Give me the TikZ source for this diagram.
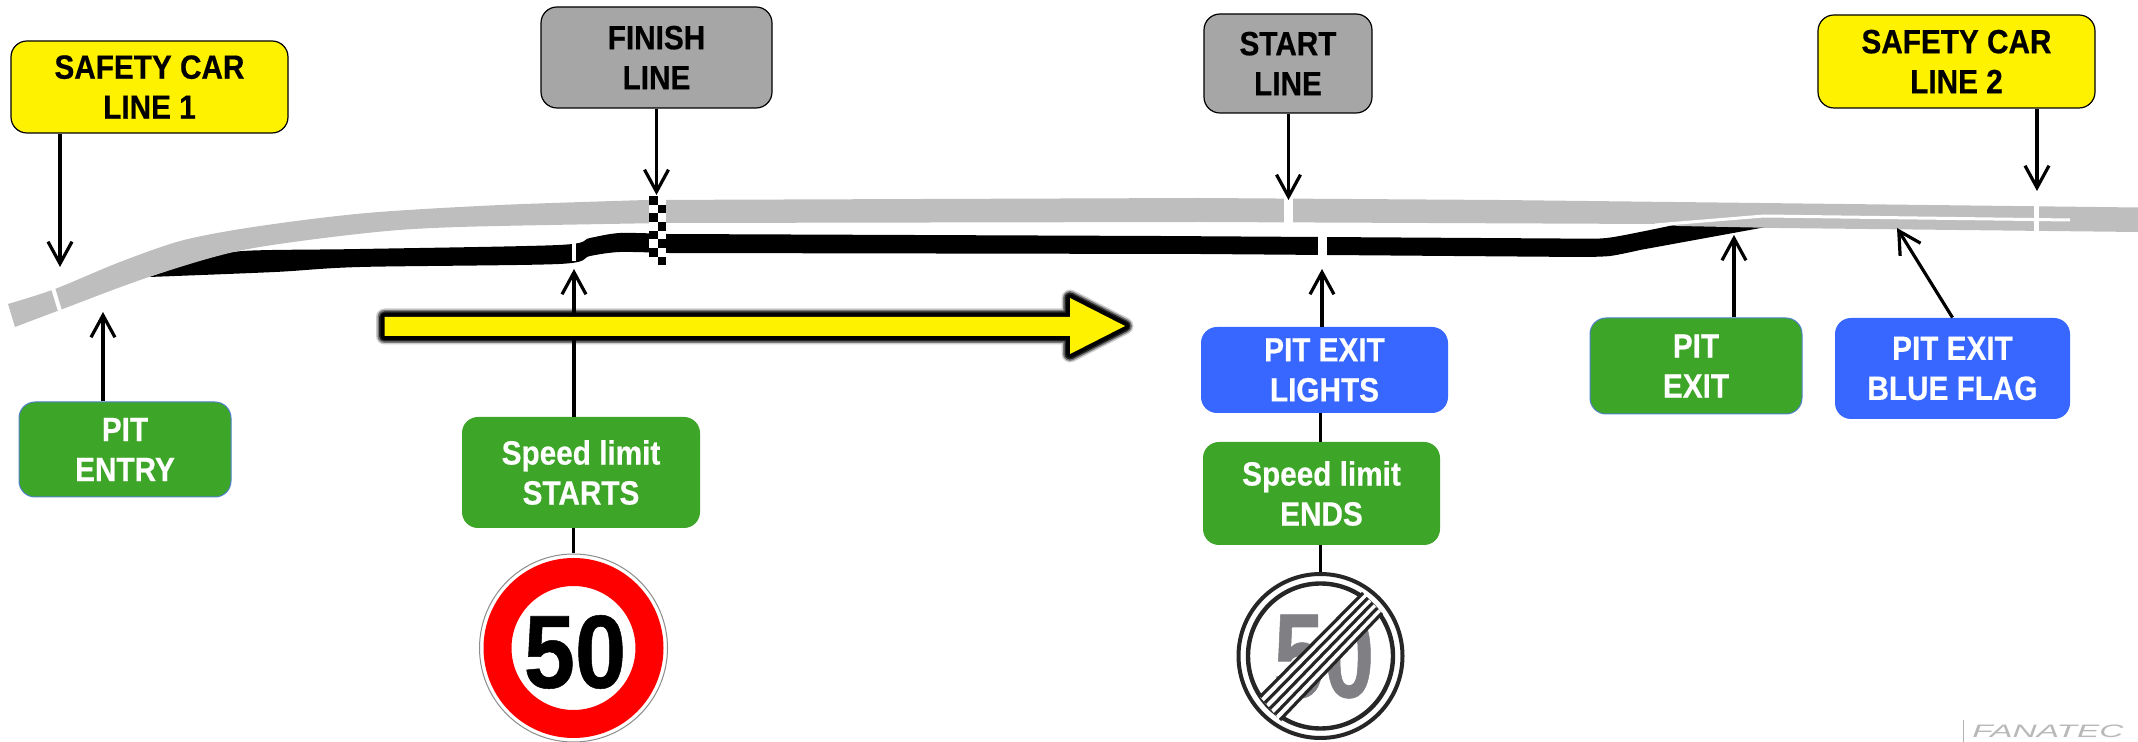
\documentclass[tikz,border=0pt]{standalone}
\usepackage{fontspec}
\setmainfont[FakeStretch=0.885,BoldFeatures={FakeStretch=0.885,FakeBold=0.5}]{Liberation Sans}
\usetikzlibrary{arrows.meta}
\definecolor{trackgrey}{HTML}{BEBEBE}
\definecolor{boxgrey}{HTML}{A6A6A6}
\definecolor{boxgreen}{HTML}{3DA528}
\definecolor{boxblue}{HTML}{3767FF}
\definecolor{rimblue}{HTML}{4F81C8}
\definecolor{signgrey}{HTML}{7F7F84}
\begin{document}
\begin{tikzpicture}
[x=0.5pt,y=-0.5pt,
markbox/.style={rectangle,rounded corners=8pt,align=center,inner sep=0pt,font=\fontsize{16.8}{20}\selectfont\bfseries},
yellowbox/.style={markbox,draw=black,line width=0.6pt,fill=yellow,text=black},
greybox/.style={markbox,draw=black,line width=0.6pt,fill=boxgrey,text=black},
greenbox/.style={markbox,draw=rimblue,line width=0.5pt,fill=boxgreen,text=white},
speedbox/.style={markbox,fill=boxgreen,text=white},
bluebox/.style={markbox,fill=boxblue,text=white},
pointer/.style={-{Straight Barb[length=11pt,width=12pt]},line width=1.6pt,black},
plainlink/.style={line width=1.6pt,black},
gapmark/.style={fill=white},
signdisc/.style={circle,inner sep=0pt,fill=white}]
\useasboundingbox (0,0) rectangle (2138,742);
\fill[black] plot[smooth,tension=.5] coordinates {(149,277) (200,260) (243,251) (360,249) (559,245) (590,238) (620,233) (666,234)} -- (1160,236) -- plot[smooth,tension=.5] coordinates {(1560,238.5) (1600,238.5) (1625,235) (1679,224)} -- (1777,225) -- plot[smooth,tension=.5] coordinates {(1640,250) (1610,256) (1580,257)} -- (1200,254) -- plot[smooth,tension=.5] coordinates {(666,253) (620,252) (590,256) (559,264) (360,267) (275,272) (149,277)} -- cycle;
\fill[trackgrey] plot[smooth,tension=.5] coordinates {(8,304) (55,289) (120,262) (184,240) (260,226) (367,213) (500,205) (647,200)} -- (1200,198) -- (1500,200) -- (1760,203) -- (2138,207.5) -- (2138,232) -- (1777,228) -- (1679,226) -- (1655,224) -- (1200,222) -- plot[smooth,tension=.5] coordinates {(666,223) (459,227) (367,233) (243,250) (149,277) (60,310) (15,327)} -- cycle;
\draw[white,line width=2pt] (53,288) -- (60,311);
\draw[white,line width=2pt] (574,243) -- (574,261);
\fill[gapmark] (1284,196) rectangle (1293,224);
\fill[gapmark] (1318,230) rectangle (1327,259);
\fill[gapmark] (2034,203) rectangle (2039,233);
\draw[white,line width=1.5pt] (1655,225) -- (1764,216) -- (2070,220);
\fill[gapmark] (649,196) rectangle (666,265);
\foreach \row in {0,2,4,6}
  \fill[black] (649,196+8.66*\row) rectangle ++(8.5,8.66);
\foreach \row in {1,3,5,7}
  \fill[black] (657.5,196+8.66*\row) rectangle ++(8.5,8.66);
\node[yellowbox,minimum width=138.5pt,minimum height=46pt] (safety1) at (149.5,87) {SAFETY CAR\\LINE 1};
\node[greybox,minimum width=115.5pt,minimum height=50.5pt] (finish) at (656.5,57.5) {FINISH\\LINE};
\node[greybox,minimum width=84pt,minimum height=49.5pt] (start) at (1288,63.5) {START\\LINE};
\node[yellowbox,minimum width=138.5pt,minimum height=46.5pt] (safety2) at (1956.5,61.5) {SAFETY CAR\\LINE 2};
\node[greenbox,minimum width=106pt,minimum height=47.5pt] (pitentry) at (125,449.5) {PIT\\ENTRY};
\node[speedbox,minimum width=119pt,minimum height=55.5pt] (limitstarts) at (581,472.5) {Speed limit\\STARTS};
\node[bluebox,minimum width=123.5pt,minimum height=43pt] (exitlights) at (1324.5,370) {PIT EXIT\\LIGHTS};
\node[speedbox,minimum width=118.5pt,minimum height=51.5pt] (limitends) at (1321.5,493.5) {Speed limit\\ENDS};
\node[greenbox,minimum width=106pt,minimum height=48pt] (pitexit) at (1696,366) {PIT\\EXIT};
\node[bluebox,minimum width=117.5pt,minimum height=50.5pt] (blueflag) at (1952.5,368.5) {PIT EXIT\\BLUE FLAG};
\node[signdisc,draw=black!45,line width=0.5pt,minimum size=94pt] (signstarts) at (573.5,648) {};
\draw[red,line width=14pt] (signstarts.center) circle (76);
\node[inner sep=0pt,font=\fontsize{52}{52}\selectfont\bfseries] (fiftystarts) at (575,652) {50};
\node[signdisc,minimum size=84pt] (signends) at (1320.5,656) {};
\draw[black!85,line width=2pt] (signends.center) circle (82);
\draw[black!85,line width=2.2pt] (signends.center) circle (72.5);
\node[inner sep=0pt,text=signgrey,font=\fontsize{60}{60}\selectfont\bfseries] (fiftyends) at (1324,656) {\scalebox{.85}[1]{50}};
\fill[white] (1260,697) -- (1363,593) -- (1382,613) -- (1280,720) -- cycle;
\foreach \stripe in {0,...,4}
  \draw[black!85,line width=1.6pt] (1260+5*\stripe,697+5.75*\stripe) -- (1363+4.75*\stripe,593+5*\stripe);
\coordinate (safety1tip) at (60,267);
\coordinate (finishtip) at (656.5,195);
\coordinate (starttip) at (1288.5,200);
\coordinate (safety2tip) at (2037,191);
\coordinate (entrytip) at (103,312);
\coordinate (limittip) at (574,269);
\coordinate (lightstip) at (1322,269);
\coordinate (exittip) at (1734,235);
\coordinate (flagtip) at (1897,228);
\draw[pointer] (safety1.south -| safety1tip) -- (safety1tip);
\draw[pointer] (finish.south -| finishtip) -- (finishtip);
\draw[pointer] (start.south -| starttip) -- (starttip);
\draw[pointer] (safety2.south -| safety2tip) -- (safety2tip);
\draw[pointer] (pitentry.north -| entrytip) -- (entrytip);
\draw[pointer] (limitstarts.north -| limittip) -- (limittip);
\draw[pointer] (exitlights.north -| lightstip) -- (lightstip);
\draw[pointer] (pitexit.north -| exittip) -- (exittip);
\draw[pointer] (blueflag.north) -- (flagtip);
\draw[plainlink] (limitstarts.south -| signstarts.north) -- (signstarts.north);
\draw[plainlink] (exitlights.south -| signends.north) -- (limitends.north -| signends.north);
\draw[plainlink] (limitends.south -| signends.north) -- (signends.north);
\foreach \glow/\fade in {8.5pt/.2,7pt/.4,5.5pt/.7,4pt/1}
  \draw[black,opacity=\fade,line width=\glow,line join=round] (384.5,317) -- (1070,317) -- (1070,298) -- (1125,326) -- (1070,354) -- (1070,336) -- (384.5,336) -- cycle;
\fill[yellow] (384.5,317) -- (1070,317) -- (1070,298) -- (1125,326) -- (1070,354) -- (1070,336) -- (384.5,336) -- cycle;
\node[inner sep=0pt,text=black!28,font=\fontsize{9}{9}\selectfont\itshape] (fanatec) at (2048,731) {\scalebox{2.1}[1]{FANATEC}};
\coordinate (fanatecbar) at (1963,720);
\draw[black!30,line width=0.5pt] (fanatecbar) -- (fanatecbar |- 0,742);
\end{tikzpicture}
\end{document}
